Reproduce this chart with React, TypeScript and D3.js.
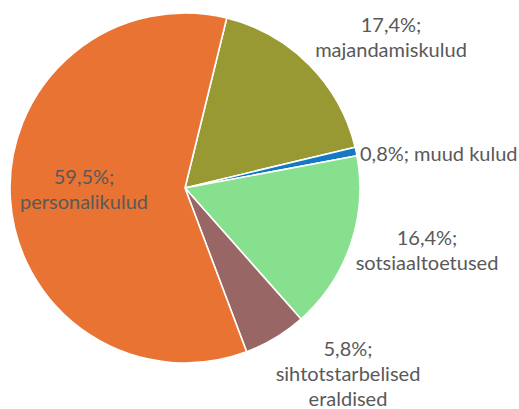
import React from "react";
import * as d3 from "d3";

const categories = ["majandamiskulud", "muud kulud", "sotsiaaltoetused", "sihtotstarbelised eraldised", "personalikulud"];
const shares = [17.4, 0.8, 16.4, 5.8, 59.5];
const labelLines = [
  ["17,4%;", "majandamiskulud"],
  ["0,8%; muud kulud"],
  ["16,4%;", "sotsiaaltoetused"],
  ["5,8%;", "sihtotstarbelised", "eraldised"],
  ["59,5%;", "personalikulud"],
];
const colors = ["#999933", "#1478C4", "#86E08E", "#976665", "#E97333"];

const width = 519;
const height = 409;
const cx = 185;
const cy = 188;
const radius = 175;
const startDeg = 13.8;

// label anchors (x, first baseline y, text-anchor)
const labelAnchor: [number, number, string][] = [
  [391, 32, "middle"],
  [360, 161, "start"],
  [427, 245, "middle"],
  [348, 356, "middle"],
  [84, 184, "middle"],
];

const App = () => {
  const pie = d3
    .pie<number>()
    .sort(null)
    .value((d) => d)
    .startAngle((startDeg * Math.PI) / 180)
    .endAngle((startDeg * Math.PI) / 180 + 2 * Math.PI);
  const arcs = pie(shares);
  const arc = d3.arc<d3.PieArcDatum<number>>().innerRadius(0).outerRadius(radius);

  return (
    <svg
      width={width}
      height={height}
      style={{ position: "absolute", left: 0, top: 0, background: "#fff" }}
    >
      <g transform={`translate(${cx},${cy})`}>
        {arcs.map((a, i) => (
          <path key={categories[i]} d={arc(a) || ""} fill={colors[i]} stroke="#fff" strokeWidth={1.6} strokeLinejoin="round" />
        ))}
      </g>
      <g fontFamily="Lato, 'Open Sans', sans-serif" fontSize={20} fill="#595959">
        {labelLines.map((lines, i) => (
          <text key={categories[i]} x={labelAnchor[i][0]} y={labelAnchor[i][1]} textAnchor={labelAnchor[i][2]}>
            {lines.map((t, j) => (
              <tspan key={j} x={labelAnchor[i][0]} dy={j === 0 ? 0 : 25}>
                {t}
              </tspan>
            ))}
          </text>
        ))}
      </g>
    </svg>
  );
};

export default App;
